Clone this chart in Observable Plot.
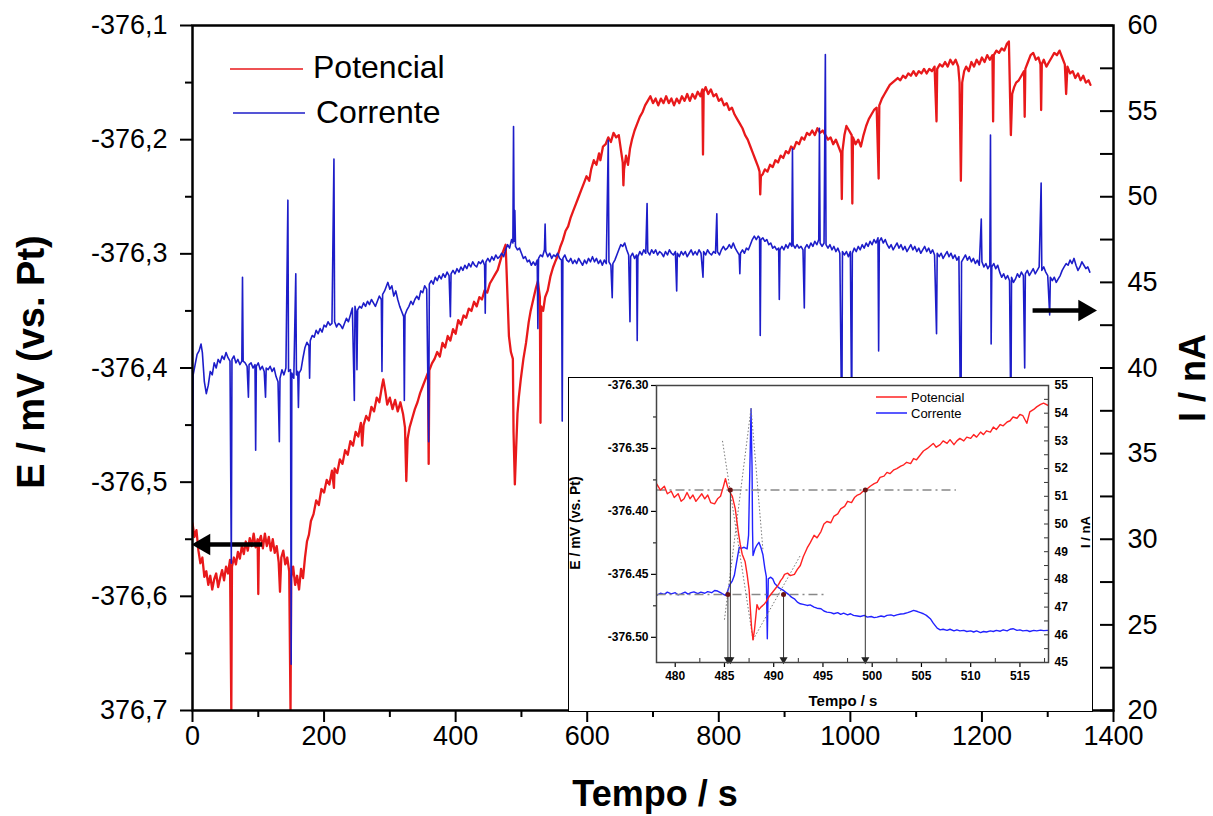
<!DOCTYPE html>
<html><head><meta charset="utf-8">
<script src="https://cdn.jsdelivr.net/npm/d3@7"></script>
<script src="https://cdn.jsdelivr.net/npm/@observablehq/plot@0.6"></script>
<style>
html,body{margin:0;padding:0;background:#fff;}
#root{position:relative;width:1213px;height:816px;overflow:hidden;background:#fff;}
.layer{position:absolute;left:0;top:0;}
#inset{position:absolute;left:568px;top:377px;width:525px;height:335px;background:#fff;border:1px solid #000;box-sizing:border-box;}
#overlay{position:absolute;left:0;top:0;pointer-events:none;}
</style></head><body><div id="root"><div id="inset"></div></div>
<script>
// ---------- main chart data ----------
const xTicks = [0,200,400,600,800,1000,1200,1400];
const xTickLabels = ["0","200","400","600","800","1000","1200","1400"];
const xMinor = [100,300,500,700,900,1100,1300];
const eTicks = [-376.7,-376.6,-376.5,-376.4,-376.3,-376.2,-376.1];
const eTickLabels = ["376,7","-376,6","-376,5","-376,4","-376,3","-376,2","-376,1"];
const eMinor = [-376.65,-376.55,-376.45,-376.35,-376.25,-376.15];
const iTicks = [20,25,30,35,40,45,50,55,60];
const iTickLabels = ["20","25","30","35","40","45","50","55","60"];
const iMinor = [22.5,27.5,32.5,37.5,42.5,47.5,52.5,57.5];

// Potencial (t [s], E [mV])
const potencial = [[0,-376.536],[3,-376.548],[6,-376.542],[9,-376.560],[12,-376.571],[15,-376.566],[18,-376.583],[21,-376.578],[24,-376.590],[27,-376.582],[30,-376.594],[33,-376.585],[36,-376.580],[39,-376.592],[42,-376.584],[45,-376.577],[48,-376.586],[51,-376.574],[54,-376.580],[57,-376.568],[59,-376.700],[60,-376.574],[63,-376.566],[66,-376.572],[69,-376.561],[72,-376.567],[75,-376.556],[78,-376.563],[81,-376.552],[84,-376.560],[87,-376.549],[90,-376.556],[93,-376.545],[96,-376.557],[99,-376.550],[100,-376.598],[101,-376.552],[104,-376.547],[107,-376.558],[110,-376.545],[113,-376.556],[116,-376.548],[119,-376.560],[122,-376.550],[125,-376.562],[128,-376.556],[131,-376.570],[133,-376.596],[135,-376.566],[138,-376.560],[141,-376.572],[144,-376.566],[147,-376.578],[149,-376.700],[150,-376.584],[153,-376.574],[156,-376.590],[159,-376.582],[162,-376.594],[165,-376.576],[168,-376.584],[171,-376.566],[174,-376.552],[177,-376.546],[180,-376.534],[184,-376.528],[188,-376.516],[192,-376.520],[196,-376.506],[200,-376.509],[204,-376.498],[208,-376.502],[212,-376.490],[215,-376.505],[216,-376.488],[220,-376.492],[224,-376.480],[228,-376.484],[232,-376.472],[236,-376.476],[240,-376.464],[244,-376.468],[248,-376.456],[252,-376.460],[256,-376.448],[258,-376.468],[260,-376.450],[264,-376.442],[268,-376.446],[272,-376.434],[276,-376.438],[280,-376.426],[284,-376.430],[288,-376.416],[290,-376.410],[293,-376.420],[296,-376.432],[300,-376.426],[304,-376.436],[308,-376.428],[312,-376.438],[316,-376.430],[320,-376.440],[323,-376.452],[325,-376.499],[327,-376.462],[330,-376.452],[334,-376.444],[338,-376.436],[342,-376.430],[346,-376.422],[350,-376.416],[354,-376.410],[358,-376.404],[359,-376.484],[360,-376.402],[364,-376.396],[368,-376.392],[372,-376.386],[376,-376.390],[380,-376.378],[384,-376.382],[388,-376.372],[392,-376.376],[396,-376.366],[400,-376.370],[404,-376.358],[408,-376.362],[412,-376.354],[416,-376.356],[420,-376.348],[424,-376.350],[428,-376.342],[432,-376.346],[436,-376.338],[440,-376.340],[444,-376.332],[448,-376.334],[452,-376.326],[456,-376.322],[460,-376.318],[464,-376.314],[468,-376.306],[472,-376.298],[476,-376.292],[479,-376.340],[481,-376.372],[484,-376.386],[487,-376.392],[488,-376.456],[490,-376.502],[492,-376.470],[494,-376.440],[496,-376.426],[499,-376.410],[503,-376.392],[507,-376.378],[511,-376.360],[514,-376.350],[518,-376.340],[522,-376.330],[525,-376.324],[528,-376.338],[529,-376.448],[530,-376.346],[533,-376.350],[536,-376.338],[540,-376.332],[544,-376.320],[548,-376.312],[552,-376.306],[555,-376.302],[559,-376.294],[563,-376.288],[567,-376.280],[571,-376.276],[575,-376.268],[579,-376.262],[583,-376.256],[587,-376.250],[591,-376.244],[595,-376.238],[599,-376.232],[603,-376.236],[606,-376.226],[610,-376.218],[614,-376.222],[618,-376.212],[620,-376.218],[624,-376.206],[628,-376.204],[632,-376.198],[636,-376.202],[640,-376.194],[644,-376.198],[648,-376.196],[651,-376.208],[654,-376.220],[655,-376.240],[656,-376.226],[659,-376.214],[662,-376.222],[665,-376.208],[668,-376.200],[672,-376.192],[676,-376.186],[680,-376.180],[684,-376.176],[688,-376.170],[692,-376.166],[696,-376.162],[700,-376.168],[704,-376.164],[708,-376.170],[712,-376.164],[716,-376.168],[720,-376.162],[724,-376.168],[728,-376.164],[732,-376.170],[736,-376.164],[740,-376.168],[744,-376.162],[748,-376.166],[752,-376.160],[756,-376.166],[760,-376.160],[764,-376.164],[768,-376.158],[772,-376.162],[775,-376.156],[776,-376.213],[777,-376.158],[780,-376.154],[784,-376.160],[788,-376.156],[792,-376.162],[796,-376.160],[800,-376.166],[804,-376.164],[808,-376.170],[812,-376.168],[816,-376.174],[820,-376.172],[824,-376.178],[828,-376.182],[832,-376.186],[836,-376.190],[840,-376.196],[844,-376.200],[848,-376.206],[852,-376.212],[856,-376.218],[860,-376.224],[862,-376.228],[863,-376.248],[864,-376.232],[867,-376.230],[870,-376.226],[874,-376.228],[878,-376.222],[882,-376.224],[886,-376.218],[890,-376.220],[894,-376.214],[898,-376.216],[902,-376.210],[906,-376.212],[910,-376.206],[914,-376.208],[918,-376.202],[922,-376.204],[926,-376.198],[930,-376.200],[934,-376.194],[938,-376.196],[942,-376.192],[946,-376.196],[950,-376.190],[954,-376.194],[958,-376.192],[962,-376.196],[966,-376.200],[970,-376.198],[974,-376.204],[978,-376.200],[982,-376.206],[986,-376.212],[987,-376.252],[988,-376.210],[991,-376.196],[994,-376.188],[998,-376.192],[1002,-376.196],[1003,-376.256],[1004,-376.198],[1008,-376.204],[1012,-376.200],[1016,-376.206],[1020,-376.196],[1024,-376.188],[1028,-376.182],[1032,-376.178],[1036,-376.174],[1040,-376.172],[1043,-376.234],[1044,-376.170],[1048,-376.164],[1052,-376.160],[1056,-376.156],[1060,-376.152],[1064,-376.150],[1068,-376.148],[1072,-376.146],[1076,-376.148],[1080,-376.144],[1084,-376.146],[1088,-376.142],[1092,-376.144],[1096,-376.140],[1100,-376.144],[1104,-376.140],[1108,-376.142],[1112,-376.138],[1116,-376.142],[1120,-376.138],[1124,-376.140],[1128,-376.136],[1131,-376.184],[1132,-376.138],[1136,-376.134],[1140,-376.136],[1144,-376.132],[1148,-376.136],[1152,-376.130],[1156,-376.134],[1160,-376.130],[1164,-376.136],[1166,-376.150],[1168,-376.236],[1170,-376.150],[1173,-376.140],[1176,-376.136],[1180,-376.140],[1184,-376.132],[1188,-376.136],[1192,-376.130],[1196,-376.134],[1200,-376.128],[1204,-376.132],[1208,-376.126],[1212,-376.130],[1216,-376.126],[1217,-376.184],[1218,-376.126],[1222,-376.122],[1226,-376.124],[1230,-376.120],[1234,-376.122],[1238,-376.116],[1241,-376.114],[1244,-376.196],[1246,-376.160],[1249,-376.154],[1252,-376.150],[1256,-376.148],[1260,-376.144],[1264,-376.140],[1265,-376.180],[1266,-376.138],[1270,-376.132],[1274,-376.126],[1278,-376.124],[1282,-376.130],[1286,-376.128],[1289,-376.134],[1290,-376.174],[1291,-376.134],[1294,-376.130],[1298,-376.136],[1302,-376.132],[1306,-376.128],[1310,-376.124],[1314,-376.126],[1318,-376.122],[1322,-376.128],[1326,-376.134],[1328,-376.160],[1330,-376.136],[1334,-376.142],[1338,-376.140],[1342,-376.146],[1346,-376.142],[1350,-376.148],[1354,-376.144],[1358,-376.150],[1362,-376.148],[1365,-376.152]];

// Corrente (t [s], I [nA])
const corrente = [[0,31.0],[1,39.6],[4,40.2],[7,40.8],[10,41.0],[13,41.4],[15,40.9],[18,39.2],[21,38.5],[24,39.0],[27,39.8],[30,39.6],[33,40.3],[36,40.0],[39,40.5],[42,40.3],[45,40.7],[48,40.5],[51,40.9],[54,40.6],[57,40.4],[59,28.6],[60,40.5],[63,40.7],[66,40.3],[69,40.5],[72,40.2],[75,40.4],[76,45.3],[77,40.4],[80,40.3],[83,40.1],[85,38.3],[86,40.2],[89,40.3],[92,40.0],[95,40.2],[96,35.2],[97,40.1],[100,40.3],[103,39.9],[106,40.1],[109,39.8],[111,38.3],[112,40.0],[115,39.9],[118,40.1],[121,39.8],[124,40.0],[127,39.5],[130,39.2],[132,35.7],[133,39.4],[136,39.9],[139,39.6],[142,40.0],[145,49.8],[146,39.8],[149,39.9],[150,22.7],[151,39.7],[154,39.4],[157,45.5],[158,39.6],[160,39.8],[161,37.7],[162,39.7],[165,39.9],[168,40.6],[171,41.2],[174,41.5],[177,41.3],[178,39.4],[179,41.6],[182,41.9],[185,41.8],[188,42.2],[191,42.0],[194,42.3],[197,42.1],[200,42.5],[203,42.4],[206,42.7],[209,42.5],[212,42.6],[215,52.2],[216,42.7],[219,42.4],[222,42.6],[225,42.5],[228,42.3],[231,42.6],[234,42.9],[237,42.7],[240,43.1],[243,43.5],[246,38.1],[247,43.6],[249,43.2],[250,39.9],[251,43.4],[254,43.6],[257,43.5],[260,43.8],[263,43.6],[266,43.9],[269,43.7],[272,44.0],[275,43.8],[278,43.6],[281,43.9],[284,44.2],[287,44.0],[288,39.8],[289,44.3],[292,44.5],[295,44.8],[297,45.0],[300,44.6],[303,44.8],[306,44.2],[309,44.5],[312,44.0],[315,43.6],[318,43.3],[321,43.0],[322,38.1],[323,43.1],[326,43.4],[329,43.6],[332,43.9],[335,43.7],[338,44.0],[341,44.2],[344,44.0],[347,44.5],[350,44.4],[353,44.8],[356,44.6],[359,35.7],[360,44.9],[363,45.1],[366,44.9],[369,45.3],[372,45.1],[375,45.4],[378,45.2],[381,45.5],[384,45.3],[387,45.6],[390,45.4],[392,43.0],[393,45.5],[396,45.7],[399,45.5],[402,45.8],[405,45.6],[408,45.9],[411,45.7],[414,46.0],[417,45.8],[420,46.1],[423,45.9],[426,46.2],[429,46.0],[432,45.9],[435,46.2],[438,46.1],[441,46.3],[444,46.0],[445,43.2],[446,46.2],[449,46.4],[452,46.2],[455,46.5],[458,46.3],[461,46.6],[464,46.4],[467,46.5],[470,46.7],[473,46.5],[476,46.9],[479,47.2],[482,47.0],[485,47.5],[487,47.3],[488,54.1],[489,47.4],[490,49.2],[491,47.1],[494,46.9],[497,47.0],[500,46.7],[503,46.4],[506,46.5],[509,46.2],[512,46.3],[515,46.0],[518,46.2],[521,46.0],[524,46.3],[525,42.3],[526,46.4],[529,46.6],[532,46.5],[535,46.9],[536,48.4],[537,46.8],[540,46.5],[543,46.7],[546,46.4],[549,46.6],[552,46.5],[555,46.7],[558,46.4],[561,46.3],[562,36.9],[563,46.4],[566,46.6],[569,46.3],[572,46.2],[575,46.4],[578,46.1],[581,46.3],[584,46.1],[587,46.4],[590,46.2],[593,46.0],[596,46.3],[599,46.1],[602,46.4],[605,46.2],[608,46.5],[611,46.2],[614,46.4],[617,46.1],[620,46.3],[623,46.0],[626,46.3],[629,46.1],[632,53.3],[633,46.2],[636,46.0],[638,44.1],[639,46.1],[642,46.3],[645,46.6],[648,46.9],[651,47.2],[654,47.1],[657,47.3],[660,46.9],[663,46.6],[665,42.7],[666,46.5],[669,46.7],[672,46.4],[675,46.6],[676,41.6],[677,46.5],[680,46.8],[683,46.6],[686,46.9],[689,46.7],[691,49.6],[692,46.8],[695,46.6],[698,46.9],[701,46.7],[704,46.9],[707,46.6],[710,46.8],[713,46.7],[716,46.5],[719,46.8],[722,46.6],[725,46.9],[728,46.7],[731,46.6],[734,46.8],[736,44.5],[737,46.7],[740,46.5],[743,46.8],[746,46.6],[749,46.8],[752,46.5],[755,46.7],[758,46.9],[761,46.6],[764,46.8],[767,46.6],[770,46.9],[773,46.7],[776,45.3],[777,46.8],[780,46.6],[783,46.9],[786,46.7],[789,46.6],[792,46.8],[795,46.7],[797,49.0],[798,46.8],[801,46.6],[804,46.9],[807,47.1],[810,46.9],[813,47.0],[816,47.2],[819,47.0],[822,47.3],[825,47.0],[828,46.8],[831,46.6],[832,45.5],[833,46.7],[836,46.9],[839,46.7],[842,47.0],[845,46.9],[848,47.2],[851,47.5],[854,47.7],[857,47.5],[860,47.7],[862,47.6],[863,41.9],[864,47.5],[867,47.6],[870,47.4],[873,47.5],[876,47.2],[879,47.3],[882,47.0],[885,47.1],[888,46.9],[891,47.0],[892,44.0],[893,46.9],[896,47.1],[899,46.9],[902,47.2],[905,47.0],[908,47.3],[911,47.1],[912,52.8],[913,47.2],[916,47.0],[919,47.2],[922,47.0],[925,47.1],[928,46.9],[930,43.5],[931,47.0],[934,47.2],[937,47.0],[940,47.3],[943,47.1],[946,47.4],[949,47.2],[952,47.5],[953,54.0],[954,47.3],[957,47.1],[960,47.3],[962,58.3],[963,47.2],[966,47.0],[969,47.2],[972,46.9],[975,47.1],[978,46.8],[981,47.0],[984,46.7],[987,36.0],[988,46.8],[991,46.6],[994,46.8],[997,46.5],[1000,46.8],[1002,37.0],[1003,46.7],[1006,47.0],[1009,46.8],[1012,47.1],[1015,46.9],[1018,47.2],[1021,47.0],[1024,47.3],[1027,47.1],[1030,47.4],[1033,47.2],[1036,47.5],[1039,47.3],[1042,47.6],[1043,41.0],[1044,47.4],[1047,47.6],[1050,47.3],[1053,47.5],[1056,47.2],[1059,47.0],[1062,47.2],[1065,46.9],[1068,47.1],[1071,47.3],[1074,47.0],[1077,47.2],[1080,46.9],[1083,47.1],[1086,46.8],[1089,47.0],[1092,47.2],[1095,46.9],[1098,47.1],[1101,46.8],[1104,47.0],[1107,46.7],[1110,46.9],[1113,47.1],[1116,46.8],[1119,47.0],[1122,46.7],[1125,46.9],[1128,46.6],[1131,42.0],[1132,46.7],[1135,46.5],[1138,46.7],[1141,46.4],[1144,46.6],[1147,46.8],[1150,46.5],[1153,46.7],[1156,46.4],[1159,46.6],[1162,46.3],[1165,46.5],[1168,34.5],[1169,46.2],[1172,46.4],[1175,46.6],[1178,46.3],[1181,46.5],[1184,46.2],[1187,46.4],[1190,46.1],[1193,46.3],[1196,46.0],[1199,48.7],[1200,46.2],[1203,45.9],[1206,46.1],[1209,45.8],[1212,46.0],[1213,53.6],[1214,41.4],[1215,45.9],[1218,46.1],[1221,45.8],[1224,46.0],[1227,45.6],[1230,45.3],[1233,45.5],[1236,45.2],[1239,45.4],[1242,45.1],[1244,36.5],[1245,45.3],[1248,45.0],[1251,45.2],[1254,45.5],[1257,45.3],[1260,45.6],[1263,45.4],[1265,40.0],[1266,45.5],[1269,45.7],[1272,45.4],[1275,45.6],[1278,45.8],[1281,45.5],[1284,45.7],[1287,45.9],[1290,50.8],[1291,45.7],[1294,45.9],[1297,45.6],[1300,45.4],[1303,43.1],[1304,45.3],[1307,45.1],[1310,45.3],[1313,45.0],[1316,45.2],[1319,45.4],[1322,45.7],[1325,45.9],[1328,46.1],[1331,46.0],[1334,46.3],[1337,46.1],[1340,46.4],[1343,46.0],[1346,45.7],[1349,45.9],[1352,46.2],[1355,46.0],[1358,45.8],[1361,45.9],[1364,45.6]];

// axis-pointing arrows (data units)
const arrowE = {t1: 106, t2: 17, e: -376.5546, head: 17.5};   // points to left axis
const arrowI = {t1: 1277, t2: 1350, i: 43.36, head: 1356};    // points to right axis

// ---------- inset data ----------
const inXTicks = [480,485,490,495,500,505,510,515];
const inXMinor = [482.5,487.5,492.5,497.5,502.5,507.5,512.5,517.5];
const inETicks = [-376.5,-376.45,-376.4,-376.35,-376.3];
const inETickLabels = ["-376.50","-376.45","-376.40","-376.35","-376.30"];
const inEMinor = [-376.475,-376.425,-376.375,-376.325];
const inITicks = [45,46,47,48,49,50,51,52,53,54,55];
const inIMinor = [45,45.5,46,46.5,47,47.5,48,48.5,49,49.5,50,50.5,51,51.5,52,52.5,53,53.5,54,54.5,55];

const inPot = [[478.1,-376.378],[478.5,-376.383],[478.9,-376.380],[479.2,-376.386],[479.6,-376.384],[479.9,-376.389],[480.3,-376.386],[480.6,-376.392],[480.9,-376.390],[481.2,-376.385],[481.5,-376.390],[481.8,-376.387],[482.1,-376.392],[482.4,-376.389],[482.7,-376.386],[483.0,-376.390],[483.3,-376.387],[483.6,-376.393],[484.0,-376.394],[484.3,-376.390],[484.6,-376.388],[484.9,-376.380],[485.1,-376.374],[485.3,-376.380],[485.5,-376.384],[485.8,-376.388],[486.1,-376.398],[486.4,-376.416],[486.6,-376.426],[486.8,-376.434],[487.1,-376.440],[487.3,-376.450],[487.5,-376.462],[487.6,-376.474],[487.75,-376.492],[487.9,-376.502],[488.05,-376.494],[488.2,-376.482],[488.3,-376.474],[488.5,-376.478],[488.7,-376.476],[489.0,-376.474],[489.2,-376.472],[489.5,-376.468],[489.7,-376.466],[490.0,-376.463],[490.2,-376.461],[490.5,-376.458],[490.7,-376.455],[490.9,-376.453],[491.1,-376.450],[491.4,-376.449],[491.7,-376.451],[492.1,-376.450],[492.4,-376.446],[492.7,-376.443],[493.0,-376.436],[493.4,-376.429],[493.7,-376.425],[494.1,-376.419],[494.4,-376.421],[494.8,-376.416],[495.1,-376.410],[495.4,-376.408],[495.8,-376.409],[496.1,-376.404],[496.5,-376.402],[496.8,-376.398],[497.2,-376.396],[497.5,-376.392],[497.9,-376.393],[498.2,-376.389],[498.5,-376.387],[498.8,-376.386],[499.2,-376.383],[499.5,-376.382],[499.8,-376.380],[500.2,-376.378],[500.5,-376.377],[500.8,-376.373],[501.2,-376.372],[501.5,-376.369],[501.8,-376.370],[502.2,-376.367],[502.5,-376.366],[502.9,-376.364],[503.2,-376.363],[503.5,-376.361],[503.9,-376.362],[504.2,-376.358],[504.5,-376.359],[504.9,-376.355],[505.2,-376.352],[505.6,-376.350],[505.9,-376.348],[506.2,-376.346],[506.5,-376.349],[506.9,-376.347],[507.2,-376.344],[507.6,-376.346],[507.9,-376.343],[508.3,-376.347],[508.6,-376.344],[508.9,-376.342],[509.3,-376.344],[509.6,-376.341],[510.0,-376.342],[510.3,-376.339],[510.6,-376.341],[511.0,-376.337],[511.3,-376.339],[511.6,-376.336],[512.0,-376.337],[512.3,-376.333],[512.6,-376.335],[513.0,-376.331],[513.3,-376.332],[513.7,-376.329],[514.0,-376.328],[514.3,-376.325],[514.7,-376.326],[515.0,-376.323],[515.3,-376.324],[515.7,-376.330],[516.0,-376.321],[516.4,-376.319],[516.7,-376.317],[517.1,-376.315],[517.4,-376.314],[517.9,-376.316]];

const inCor = [[478.1,47.42],[478.5,47.50],[478.9,47.46],[479.2,47.54],[479.6,47.48],[480.0,47.52],[480.3,47.44],[480.6,47.48],[481.0,47.54],[481.3,47.47],[481.6,47.52],[481.9,47.55],[482.3,47.49],[482.6,47.54],[483.0,47.50],[483.3,47.56],[483.7,47.52],[484.0,47.60],[484.3,47.58],[484.6,47.52],[484.9,47.46],[485.1,47.42],[485.3,47.55],[485.5,47.78],[485.8,47.95],[486.0,48.14],[486.2,48.55],[486.35,48.86],[486.5,49.16],[486.7,49.12],[487.0,49.16],[487.3,49.10],[487.45,49.60],[487.55,51.5],[487.65,53.3],[487.7,54.16],[487.75,53.0],[487.8,52.1],[487.85,49.8],[487.9,48.86],[488.1,49.10],[488.3,49.24],[488.5,49.34],[488.7,49.15],[488.9,48.90],[489.1,48.40],[489.25,48.10],[489.35,45.86],[489.45,48.02],[489.7,48.08],[489.9,48.02],[490.1,47.85],[490.3,47.78],[490.5,47.70],[490.7,47.66],[491.0,47.60],[491.2,47.54],[491.5,47.46],[491.8,47.36],[492.1,47.30],[492.4,47.18],[492.7,47.12],[493.0,47.10],[493.4,47.06],[493.7,47.08],[494.1,47.00],[494.4,46.96],[494.8,46.94],[495.1,46.86],[495.4,46.82],[495.8,46.80],[496.1,46.76],[496.5,46.80],[496.8,46.74],[497.1,46.78],[497.5,46.72],[497.8,46.76],[498.1,46.70],[498.5,46.68],[498.8,46.66],[499.2,46.70],[499.5,46.64],[499.9,46.66],[500.2,46.62],[500.5,46.64],[500.9,46.68],[501.2,46.65],[501.5,46.70],[501.9,46.72],[502.2,46.68],[502.5,46.72],[502.9,46.75],[503.2,46.76],[503.6,46.80],[503.9,46.84],[504.2,46.88],[504.6,46.84],[504.9,46.80],[505.2,46.76],[505.5,46.70],[505.9,46.58],[506.2,46.42],[506.6,46.24],[506.9,46.18],[507.2,46.20],[507.6,46.16],[507.9,46.20],[508.3,46.14],[508.6,46.18],[508.9,46.14],[509.3,46.16],[509.6,46.12],[510.0,46.14],[510.3,46.10],[510.6,46.14],[511.0,46.08],[511.3,46.12],[511.6,46.10],[512.0,46.14],[512.3,46.12],[512.6,46.16],[513.0,46.13],[513.3,46.18],[513.7,46.14],[514.0,46.20],[514.3,46.22],[514.7,46.16],[515.0,46.18],[515.3,46.14],[515.7,46.16],[516.0,46.12],[516.4,46.16],[516.7,46.14],[517.1,46.17],[517.4,46.15],[517.9,46.16]];

// inset construction lines (data units of the E axis)
const inLevels = [{t1: 478.1, t2: 508.5, e: -376.383}, {t1: 478.1, t2: 495.3, e: -376.466}];
const inDrops = [{t: 485.35, e: -376.466}, {t: 485.6, e: -376.383}, {t: 491.0, e: -376.466}, {t: 499.3, e: -376.383}];
const inTangents = [
  {t1: 484.8, e1: -376.344, t2: 487.9, e2: -376.502},
  {t1: 485.0, e1: -376.486, t2: 487.7, e2: -376.318},
  {t1: 487.7, e1: -376.318, t2: 488.9, e2: -376.430},
  {t1: 487.9, e1: -376.502, t2: 492.7, e2: -376.435}
];
const inBottomE = -376.52;

// ---------- drawing ----------
const FONT = "'Liberation Sans', Arial, Helvetica, sans-serif";
const RED = "#e8191b", BLUE = "#1d1dc9";
const IRED = "#ff2222", IBLUE = "#2222ff";
const W = 1213, H = 816;
const M = {left: 192, right: 100, top: 25, bottom: 106};
const FW = W - M.left - M.right;
const lab = (vals, labels) => { const m = new Map(vals.map((v, i) => [v, labels[i]])); return d => m.has(d) ? m.get(d) : ""; };
const root = document.getElementById("root");
const inset = document.getElementById("inset");

const mainE = Plot.plot({
  width: W, height: H, marginLeft: M.left, marginRight: M.right, marginTop: M.top, marginBottom: M.bottom,
  x: {domain: [0, 1400]}, y: {domain: [-376.7, -376.1]},
  style: {background: "transparent", fontFamily: FONT, fontSize: "27px", color: "#000", overflow: "visible"},
  marks: [
    Plot.axisX({ticks: xTicks, tickFormat: lab(xTicks, xTickLabels), tickSize: 12, tickPadding: 3, label: null, strokeWidth: 2}),
    Plot.axisX({ticks: xMinor, tickFormat: () => "", tickSize: 7, label: null, strokeWidth: 2}),
    Plot.axisY({ticks: eTicks, tickFormat: lab(eTicks, eTickLabels), tickSize: 12, tickPadding: 13, label: null, strokeWidth: 2}),
    Plot.axisY({ticks: eMinor, tickFormat: () => "", tickSize: 7, label: null, strokeWidth: 2}),
    Plot.line(potencial, {x: d => d[0], y: d => d[1], stroke: RED, strokeWidth: 2.3, clip: true}),
    Plot.link([arrowE], {x1: "t1", x2: "t2", y1: "e", y2: "e", stroke: "#000", strokeWidth: 4.5}),
    Plot.dot([arrowE], {x: "head", y: "e", symbol: "triangle", r: 8, fill: "#000", stroke: null, rotate: -90})
  ]
});
mainE.classList.add("layer");
root.insertBefore(mainE, inset);

const mainI = Plot.plot({
  width: W, height: H, marginLeft: M.left, marginRight: M.right, marginTop: M.top, marginBottom: M.bottom,
  x: {domain: [0, 1400], axis: null}, y: {domain: [20, 60]},
  style: {background: "transparent", fontFamily: FONT, fontSize: "27px", color: "#000", overflow: "visible"},
  marks: [
    Plot.line(corrente, {x: d => d[0], y: d => d[1], stroke: BLUE, strokeWidth: 1.6, clip: true}),
    Plot.tickY(iTicks.concat(iMinor), {y: d => d, insetLeft: FW - 13, stroke: "#000", strokeWidth: 2}),
    Plot.axisY({anchor: "right", ticks: iTicks, tickFormat: lab(iTicks, iTickLabels), tickSize: 0, tickPadding: 14, label: null}),
    Plot.link([arrowI], {x1: "t1", x2: "t2", y1: "i", y2: "i", stroke: "#000", strokeWidth: 4.5}),
    Plot.dot([arrowI], {x: "head", y: "i", symbol: "triangle", r: 8, fill: "#000", stroke: null, rotate: 90}),
    Plot.frame({stroke: "#000", strokeWidth: 2.5})
  ]
});
mainI.classList.add("layer");
root.insertBefore(mainI, inset);

// inset (inside 1px border)
const IW = 523, IH = 333;
const IM = {left: 87, right: 44, top: 7, bottom: 49};
const IFW = IW - IM.left - IM.right, IFH = IH - IM.top - IM.bottom;
const inStyle = {background: "transparent", fontFamily: FONT, fontSize: "12px", fontWeight: "bold", color: "#000", overflow: "visible"};

const inI = Plot.plot({
  width: IW, height: IH, marginLeft: IM.left, marginRight: IM.right, marginTop: IM.top, marginBottom: IM.bottom,
  x: {domain: [478.1, 517.9], axis: null}, y: {domain: [45, 55]},
  style: inStyle,
  marks: [
    Plot.line(inCor, {x: d => d[0], y: d => d[1], stroke: IBLUE, strokeWidth: 1.4, clip: true}),
    Plot.tickY(inIMinor, {y: d => d, insetLeft: IFW - 4, stroke: "#333", strokeWidth: 1}),
    Plot.axisY({anchor: "right", ticks: inITicks, tickFormat: d => String(d), tickSize: 0, tickPadding: 6, label: null})
  ]
});
inI.classList.add("layer");
inset.appendChild(inI);

const inE = Plot.plot({
  width: IW, height: IH, marginLeft: IM.left, marginRight: IM.right, marginTop: IM.top, marginBottom: IM.bottom,
  x: {domain: [478.1, 517.9]}, y: {domain: [inBottomE, -376.3]},
  style: inStyle,
  marks: [
    Plot.axisX({ticks: inXTicks, tickFormat: d => String(d), tickSize: 5, tickPadding: 4, label: null, strokeWidth: 1.2}),
    Plot.tickX(inXMinor, {x: d => d, insetTop: IFH - 4, stroke: "#333"}),
    Plot.axisY({ticks: inETicks, tickFormat: lab(inETicks, inETickLabels), tickSize: 5, tickPadding: 3, label: null, strokeWidth: 1.2}),
    Plot.axisY({ticks: inEMinor, tickFormat: () => "", tickSize: 3, label: null}),
    Plot.link(inLevels, {x1: "t1", x2: "t2", y1: "e", y2: "e", stroke: "#888", strokeWidth: 1.3, strokeDasharray: "9,4,2,4"}),
    Plot.link(inTangents, {x1: "t1", x2: "t2", y1: "e1", y2: "e2", stroke: "#777", strokeWidth: 1, strokeDasharray: "1.5,2"}),
    Plot.line(inPot, {x: d => d[0], y: d => d[1], stroke: IRED, strokeWidth: 1.4, clip: true}),
    Plot.link(inDrops, {x1: "t", x2: "t", y1: "e", y2: () => inBottomE, stroke: "#333", strokeWidth: 1}),
    Plot.dot(inDrops, {x: "t", y: () => inBottomE, symbol: "triangle", r: 3, fill: "#222", stroke: null, rotate: 180, dy: -3}),
    Plot.dot(inDrops, {x: "t", y: "e", r: 2.5, fill: "#6a1414", stroke: null}),
    Plot.frame({stroke: "#444", strokeWidth: 1.5})
  ]
});
inE.classList.add("layer");
inset.appendChild(inE);

// titles and legends
const svg = d3.select(root).append("svg").attr("id", "overlay").attr("width", W).attr("height", H)
  .style("font-family", FONT);
function txt(x, y, s, size, weight, anchor, rot) {
  const t = svg.append("text").attr("font-size", size).attr("font-weight", weight).attr("text-anchor", anchor).attr("fill", "#000").text(s);
  if (rot) t.attr("transform", `translate(${x},${y}) rotate(${rot})`); else t.attr("x", x).attr("y", y);
}
txt(44, 362, "E / mV (vs. Pt)", 38, "bold", "middle", -90);
txt(1205, 378, "I / nA", 36, "bold", "middle", -90);
txt(655, 806, "Tempo / s", 36, "bold", "middle");
// main legend
svg.append("line").attr("x1", 230).attr("x2", 303).attr("y1", 69).attr("y2", 69).attr("stroke", RED).attr("stroke-width", 1.6);
svg.append("line").attr("x1", 233).attr("x2", 305).attr("y1", 113).attr("y2", 113).attr("stroke", BLUE).attr("stroke-width", 1.6);
txt(313, 78, "Potencial", 32, "normal", "start");
txt(316, 123, "Corrente", 32, "normal", "start");
// inset titles and legend
txt(580, 523, "E / mV (vs. Pt)", 14, "bold", "middle", -90);
txt(1090, 532, "I / nA", 13, "bold", "middle", -90);
txt(843, 706, "Tempo / s", 15, "bold", "middle");
svg.append("line").attr("x1", 876).attr("x2", 907).attr("y1", 397).attr("y2", 397).attr("stroke", IRED).attr("stroke-width", 1.5);
svg.append("line").attr("x1", 876).attr("x2", 907).attr("y1", 413).attr("y2", 413).attr("stroke", IBLUE).attr("stroke-width", 1.5);
txt(911, 402, "Potencial", 13, "normal", "start");
txt(911, 418, "Corrente", 13, "normal", "start");
</script></body></html>
